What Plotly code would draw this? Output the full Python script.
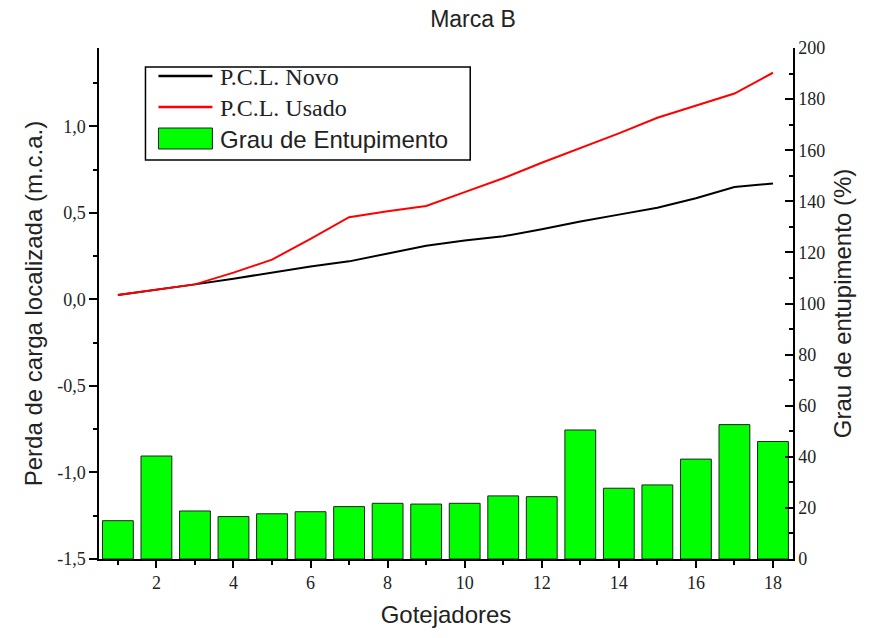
import plotly.graph_objects as go

gotejadores = list(range(1, 19))
pcl_novo = [0.025, 0.055, 0.087, 0.12, 0.155, 0.19, 0.22, 0.265, 0.31, 0.34, 0.365, 0.405, 0.45, 0.49, 0.53, 0.585, 0.65, 0.67]
pcl_usado = [0.025, 0.055, 0.087, 0.155, 0.23, 0.35, 0.475, 0.51, 0.54, 0.62, 0.70, 0.79, 0.875, 0.96, 1.05, 1.12, 1.19, 1.31]
grau_entupimento = [15.0, 40.3, 18.8, 16.6, 17.7, 18.5, 20.5, 21.8, 21.5, 21.8, 24.7, 24.4, 50.5, 27.7, 29.0, 39.1, 52.6, 46.0]
legend_names = ["P.C.L. Novo", "P.C.L. Usado", "Grau de Entupimento"]
left_tick_values = [-1.5, -1.0, -0.5, 0.0, 0.5, 1.0]
left_tick_labels = ["-1,5", "-1,0", "-0,5", "0,0", "0,5", "1,0"]

serif = "Liberation Serif"
sans = "Liberation Sans"
W, H = 871, 638
ML, MR, MT, MB = 98.5, 78, 48, 79

def px(xp):
    return (xp - ML) / (W - ML - MR)

def py(yp):
    return 1 - (yp - MT) / (H - MT - MB)

fig = go.Figure()
fig.add_trace(go.Scatter(
    x=gotejadores, y=pcl_novo, mode="lines", name=legend_names[0], showlegend=False,
    line=dict(color="black", width=2), yaxis="y"))
fig.add_trace(go.Scatter(
    x=gotejadores, y=pcl_usado, mode="lines", name=legend_names[1], showlegend=False,
    line=dict(color="#ff0000", width=2), yaxis="y"))
fig.add_trace(go.Bar(
    x=gotejadores, y=grau_entupimento, width=0.8, name=legend_names[2], showlegend=False,
    marker=dict(color="#00ff00", line=dict(color="#222222", width=1)),
    yaxis="y2"))

axis_common = dict(
    showline=True, linecolor="black", linewidth=1.5, mirror=False,
    tickcolor="black", tickwidth=1.5,
    showgrid=False, zeroline=False,
    tickfont=dict(family=serif, size=18, color="#222"),
)
title_font = dict(family=sans, size=24, color="#222")

# custom legend (box, samples, labels)
shapes = [
    dict(type="rect", xref="paper", yref="paper", x0=px(145), x1=px(470), y0=py(160), y1=py(67),
         line=dict(color="black", width=1.5), fillcolor="white", layer="above"),
    dict(type="line", xref="paper", yref="paper", x0=px(158), x1=px(212), y0=py(76), y1=py(76),
         line=dict(color="black", width=2.5), layer="above"),
    dict(type="line", xref="paper", yref="paper", x0=px(158), x1=px(212), y0=py(107), y1=py(107),
         line=dict(color="#ff0000", width=2.5), layer="above"),
    dict(type="rect", xref="paper", yref="paper", x0=px(158), x1=px(212), y0=py(149), y1=py(128),
         line=dict(color="#222222", width=1), fillcolor="#00ff00", layer="above"),
]
annotations = [
    dict(text=legend_names[0], xref="paper", yref="paper", x=px(218), y=py(77), xanchor="left", yanchor="middle",
         showarrow=False, font=dict(family=serif, size=24, color="#222")),
    dict(text=legend_names[1], xref="paper", yref="paper", x=px(218), y=py(108), xanchor="left", yanchor="middle",
         showarrow=False, font=dict(family=serif, size=24, color="#222")),
    dict(text=legend_names[2], xref="paper", yref="paper", x=px(218), y=py(139), xanchor="left", yanchor="middle",
         showarrow=False, font=dict(family=sans, size=24, color="#222")),
]

fig.update_layout(
    width=W, height=H,
    margin=dict(l=ML, r=MR, t=MT, b=MB),
    paper_bgcolor="white", plot_bgcolor="white",
    separators=",.",
    showlegend=False,
    title=dict(text="Marca B", x=473 / W, xanchor="center", y=1 - 18.5 / H, yanchor="middle",
               font=dict(family=sans, size=23, color="#222")),
    xaxis=dict(
        range=[0.51, 18.52], tick0=2, dtick=2, ticks="outside", ticklen=7,
        minor=dict(dtick=1, tick0=1, ticks="outside", ticklen=4, tickcolor="black", tickwidth=1.5),
        title=dict(text="Gotejadores", font=title_font, standoff=14),
        **axis_common),
    yaxis=dict(
        range=[-1.5, 1.453], tickmode="array", tickvals=left_tick_values, ticktext=left_tick_labels,
        ticks="outside", ticklen=8,
        minor=dict(dtick=0.25, tick0=-1.5, ticks="outside", ticklen=4, tickcolor="black", tickwidth=1.5),
        title=dict(text="Perda de carga localizada (m.c.a.)", font=title_font, standoff=8),
        **axis_common),
    yaxis2=dict(
        range=[0, 200], tick0=0, dtick=20, overlaying="y", side="right", ticks="inside", ticklen=8,
        minor=dict(dtick=10, ticks="inside", ticklen=4, tickcolor="black", tickwidth=1.5),
        title=dict(text="Grau de entupimento (%)", font=title_font, standoff=10),
        **axis_common),
    shapes=shapes,
    annotations=annotations,
)

fig.write_html("out.html")
